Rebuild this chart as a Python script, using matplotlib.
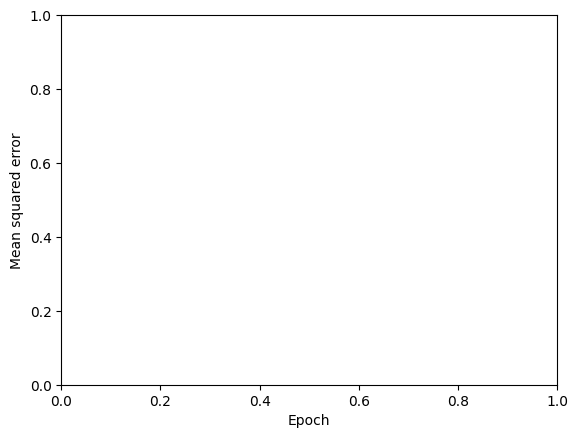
import matplotlib
matplotlib.use("Agg")
import matplotlib.pyplot as plt

# No training history was recorded, so the curve is empty
epochs = []
mse_values = []

fig, ax = plt.subplots(figsize=(6.4, 4.8))
ax.plot(epochs, mse_values)
ax.set_xlim(0, 1)
ax.set_ylim(0, 1)
ax.set_xlabel('Epoch')
ax.set_ylabel('Mean squared error')

plt.savefig('out.png', dpi=100, bbox_inches='tight')
